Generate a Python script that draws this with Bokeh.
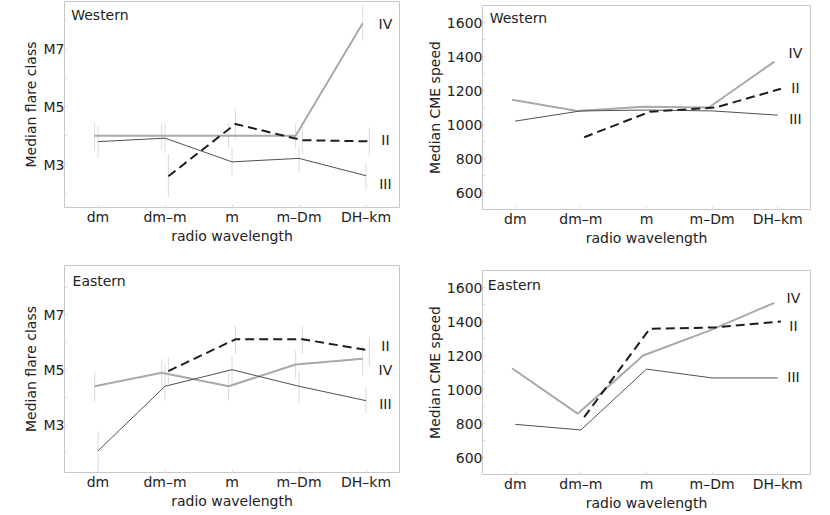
import numpy as np
from bokeh.plotting import figure
from bokeh.models import FixedTicker, Range1d, Label
from bokeh.layouts import column, row
from bokeh.embed import file_html
from bokeh.resources import INLINE
from bokeh.core.properties import value

nan = float("nan")

# ---------------- data ----------------
categories = ["dm", "dm–m", "m", "m–Dm", "DH–km"]
series = ["IV", "III", "II"]

# Western, median flare class (M units)
w_flare = {
    "IV":  [4.0, 4.0, 4.0, 4.0, 7.9],
    "III": [3.8, 3.92, 3.1, 3.22, 2.62],
    "II":  [nan, 2.6, 4.41, 3.85, 3.81],
}
w_flare_lo = {
    "IV":  [3.5, 3.5, 3.55, 3.6, 7.3],
    "III": [3.23, 3.4, 2.62, 2.73, 2.1],
    "II":  [nan, 1.87, 3.89, 3.37, 3.31],
}
w_flare_hi = {
    "IV":  [4.45, 4.45, 4.45, 4.4, 8.5],
    "III": [4.35, 4.41, 3.6, 3.66, 3.08],
    "II":  [nan, 3.37, 4.94, 4.41, 4.29],
}

# Eastern, median flare class
e_flare = {
    "IV":  [4.41, 4.90, 4.41, 5.20, 5.41],
    "III": [2.07, 4.41, 5.01, 4.41, 3.89],
    "II":  [nan, 4.96, 6.11, 6.11, 5.71],
}
e_flare_lo = {
    "IV":  [3.87, 4.32, 3.9, 4.68, 4.8],
    "III": [1.32, 3.9, 4.5, 3.78, 3.42],
    "II":  [nan, 4.5, 5.58, 5.58, 5.16],
}
e_flare_hi = {
    "IV":  [4.92, 5.40, 4.9, 5.70, 5.9],
    "III": [2.79, 5.28, 5.5, 4.98, 4.40],
    "II":  [nan, 5.45, 6.60, 6.60, 6.18],
}

# Western, median CME speed
w_cme = {
    "IV":  [1145, 1080, 1105, 1100, 1370],
    "III": [1020, 1080, 1085, 1080, 1055],
    "II":  [nan, 925, 1075, 1100, 1210],
}
# Eastern, median CME speed
e_cme = {
    "IV":  [1125, 858, 1200, 1345, 1510],
    "III": [795, 762, 1120, 1068, 1068],
    "II":  [nan, 838, 1357, 1365, 1400],
}

flare_ticks = [3, 5, 7]
flare_tick_labels = ["M3", "M5", "M7"]
flare_minor = [2, 4, 6, 8]
cme_ticks = [600, 800, 1000, 1200, 1400, 1600]
cme_minor = [700, 900, 1100, 1300, 1500]

# ---------------- styles / positions ----------------
FONT = "DejaVu Sans"
FS = "14px"
TXT = "#222222"
STYLE = {
    "IV":  dict(line_color="#a9a9a9", line_width=2),
    "III": dict(line_color="#505050", line_width=1),
    "II":  dict(line_color="#1e1e1e", line_width=2, line_dash="9 5"),
}
DODGE = {"IV": -0.05, "III": 0.0, "II": 0.05}
ERR_COLOR = "#dadada"


def make_fig(width, height, mbl, mbr, mbt, mbb, yr, ticks, minor, overrides,
             ylabel, ystand, ylstand):
    p = figure(width=width, height=height, x_range=Range1d(0.5, 5.5),
               y_range=Range1d(*yr), output_backend="svg", title=None,
               toolbar_location=None, min_border_left=mbl,
               min_border_right=mbr, min_border_top=mbt,
               min_border_bottom=mbb)
    p.xgrid.visible = False
    p.ygrid.visible = False
    p.outline_line_color = "#c8c8c8"
    p.outline_line_width = 1
    p.background_fill_color = "white"
    p.border_fill_color = "white"

    xa = p.xaxis[0]
    xa.ticker = FixedTicker(ticks=list(range(1, len(categories) + 1)), minor_ticks=[])
    xa.major_label_overrides = {i + 1: c for i, c in enumerate(categories)}
    xa.axis_label = "radio wavelength"
    xa.major_label_standoff = 1
    xa.axis_label_standoff = 0

    ya = p.yaxis[0]
    ya.ticker = FixedTicker(ticks=ticks, minor_ticks=minor)
    if overrides:
        ya.major_label_overrides = overrides
    ya.axis_label = ylabel
    ya.major_label_standoff = ylstand
    ya.axis_label_standoff = ystand

    for ax in (xa, ya):
        ax.axis_line_color = None
        ax.major_tick_in = 3
        ax.major_tick_out = 0
        ax.minor_tick_in = 3
        ax.minor_tick_out = 0
        ax.major_tick_line_color = "#dddddd"
        ax.minor_tick_line_color = "#dddddd"
        ax.major_label_text_font = FONT
        ax.major_label_text_font_size = FS
        ax.major_label_text_color = TXT
        ax.major_label_text_line_height = 1.0
        ax.axis_label_text_font = FONT
        ax.axis_label_text_font_size = FS
        ax.axis_label_text_font_style = "normal"
        ax.axis_label_text_color = TXT
        ax.axis_label_text_line_height = 1.0
    return p


def draw(p, vals, lo=None, hi=None, label_pos=None, title=None, title_pos=None):
    base = np.arange(1, len(categories) + 1, dtype=float)
    if lo is not None:
        for s in series:
            xs = base + DODGE[s]
            p.segment(x0=xs, y0=lo[s], x1=xs, y1=hi[s],
                      line_color=ERR_COLOR, line_width=1)
    for s in series:
        p.line(base + DODGE[s], vals[s], **STYLE[s])
    lx, ly = label_pos
    p.text(x=[lx] * len(series), y=[ly[s] for s in series], text=series,
           text_font=value(FONT), text_font_size=FS, text_color=TXT,
           text_align="center", text_baseline="middle")
    p.add_layout(Label(x=title_pos[0], y=title_pos[1], text=title,
                       text_font=FONT, text_font_size=FS, text_color=TXT,
                       text_align="left", text_baseline="middle"))


flare_over = {t: l for t, l in zip(flare_ticks, flare_tick_labels)}

p1 = make_fig(415, 258, 64, 16, 1, 51, (1.52, 8.65), flare_ticks, flare_minor,
              flare_over, "Median flare class", 2, 0)
draw(p1, w_flare, w_flare_lo, w_flare_hi,
     label_pos=(5.29, {"IV": 7.88, "II": 3.87, "III": 2.34}),
     title="Western", title_pos=(0.6, 8.19))

p2 = make_fig(415, 258, 67, 20, 5, 49, (500, 1700), cme_ticks, cme_minor,
              None, "Median CME speed", 1, 0)
draw(p2, w_cme,
     label_pos=(5.27, {"IV": 1418, "II": 1217, "III": 1034}),
     title="Western", title_pos=(0.61, 1627))

p3 = make_fig(415, 256, 64, 16, 7, 42, (1.29, 8.78), flare_ticks, flare_minor,
              flare_over, "Median flare class", 2, 0)
draw(p3, e_flare, e_flare_lo, e_flare_hi,
     label_pos=(5.29, {"II": 5.88, "IV": 5.01, "III": 3.76}),
     title="Eastern", title_pos=(0.62, 8.22))

p4 = make_fig(415, 256, 67, 20, 12, 40, (500, 1700), cme_ticks, cme_minor,
              None, "Median CME speed", 1, 0)
draw(p4, e_cme,
     label_pos=(5.24, {"IV": 1538, "II": 1375, "III": 1075}),
     title="Eastern", title_pos=(0.58, 1617))

layout = row(column(p1, p3), column(p2, p4))
open("out.html", "w").write(file_html(layout, INLINE))
